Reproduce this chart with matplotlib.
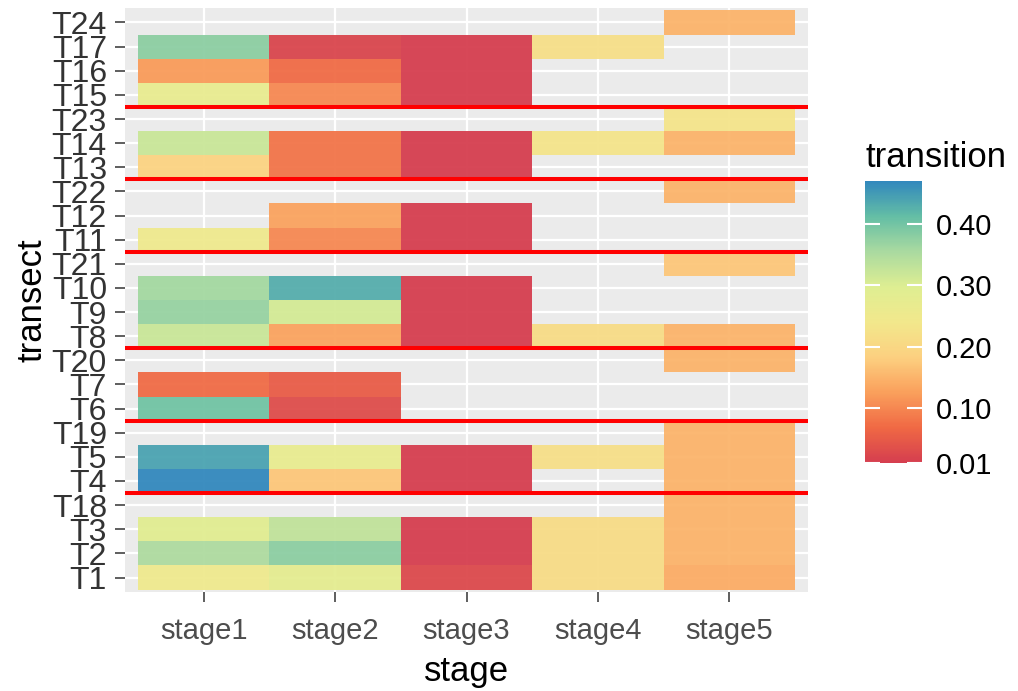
import numpy as np
import matplotlib
matplotlib.use("Agg")
import matplotlib.pyplot as plt
from matplotlib.colors import LinearSegmentedColormap, Normalize
from matplotlib.cm import ScalarMappable

# ---------------- data ----------------
transects = ["T1", "T2", "T3", "T18", "T4", "T5", "T19", "T6", "T7", "T20",
             "T8", "T9", "T10", "T21", "T11", "T12", "T22", "T13", "T14", "T23",
             "T15", "T16", "T17", "T24"]
stages = ["stage1", "stage2", "stage3", "stage4", "stage5"]
nan = np.nan
# values listed bottom (T1) -> top (T24)
stage1 = [0.25, 0.35, 0.29, nan, 0.47, 0.44, nan, 0.40, 0.07, nan,
          0.32, 0.37, 0.36, nan, 0.25, nan, nan, 0.19, 0.32, nan,
          0.27, 0.12, 0.38, nan]
stage2 = [0.28, 0.38, 0.33, nan, 0.17, 0.27, nan, 0.03, 0.05, nan,
          0.13, 0.31, 0.43, nan, 0.10, 0.13, nan, 0.08, 0.08, nan,
          0.10, 0.07, 0.02, nan]
stage3 = [0.025, 0.01, 0.01, nan, 0.01, 0.01, nan, nan, nan, nan,
          0.01, 0.01, 0.01, nan, 0.01, 0.01, nan, 0.01, 0.01, nan,
          0.01, 0.01, 0.01, nan]
stage4 = [0.21, 0.21, 0.21, nan, nan, 0.22, nan, nan, nan, nan,
          0.21, nan, nan, nan, nan, nan, nan, nan, 0.23, nan,
          nan, nan, 0.22, nan]
stage5 = [0.14, 0.15, 0.15, 0.15, 0.15, 0.15, 0.15, nan, nan, 0.15,
          0.15, nan, nan, 0.17, nan, nan, 0.15, nan, 0.15, 0.23,
          nan, nan, nan, 0.15]
hline_y = [4.5, 7.5, 10.5, 14.5, 17.5, 20.5]
cbar_ticks = [0.01, 0.10, 0.20, 0.30, 0.40]
vmin, vmax = 0.01, 0.47

# ---------------- style ----------------
plt.rcParams['font.family'] = ['Liberation Sans', 'DejaVu Sans']
cmap = LinearSegmentedColormap.from_list(
    "spec", ["#D53E4F", "#F06944", "#FAA05C", "#FCD080", "#F2E88C",
             "#DEEE92", "#AADAA0", "#64BEA5", "#3288BD"])

W, H = 1018, 691
fig = plt.figure(figsize=(W / 100, H / 100), dpi=100)
ax = fig.add_axes([125 / W, 1 - 592 / H, (808 - 125) / W, (592 - 8) / H])
ax.set_facecolor('#EBEBEB')

Z = np.ma.masked_invalid(np.array([stage1, stage2, stage3, stage4, stage5], dtype=float).T)
x_edges = np.arange(len(stages) + 1) + 0.5
y_edges = np.arange(len(transects) + 1) + 0.5
mesh = ax.pcolormesh(x_edges, y_edges, Z, cmap=cmap, vmin=vmin, vmax=vmax,
                     alpha=0.95, shading='flat', edgecolors='none',
                     antialiased=False, zorder=2)

ax.set_xticks(np.arange(1, len(stages) + 1))
ax.set_xticklabels(stages)
ax.set_yticks(np.arange(1, len(transects) + 1))
ax.set_yticklabels(transects)
ax.set_xlim(0.4, len(stages) + 0.6)
ax.set_ylim(0.4, len(transects) + 0.6)

ax.grid(True, color='white', linewidth=1.6)
ax.set_axisbelow(True)
for s in ax.spines.values():
    s.set_visible(False)

for y in hline_y:
    ax.axhline(y, color='#FF0000', linewidth=2.9, zorder=3)

ax.tick_params(axis='both', length=7, width=1.1, color='#333333')
ax.tick_params(axis='y', labelsize=23, labelcolor='#333333', pad=6)
ax.tick_params(axis='x', labelsize=21, labelcolor='#4D4D4D', pad=11)
ax.set_xlabel('stage', fontsize=25, labelpad=7, color='black')
ax.set_ylabel('transect', fontsize=25, color='black')
ax.yaxis.set_label_coords(-0.112, 0.5)

# colourbar
cax = fig.add_axes([865 / W, 1 - 463 / H, 57 / W, (463 - 181) / H])
sm = ScalarMappable(norm=Normalize(vmin=vmin, vmax=vmax), cmap=cmap)
cb = fig.colorbar(sm, cax=cax, ticks=cbar_ticks, format='%.2f')
cb.outline.set_visible(False)
cb.minorticks_off()
cax.tick_params(direction='in', length=11, width=1.5, color='white',
                left=True, right=True, labelsize=21, pad=10)
fig.text(865 / W, 1 - 167 / H, 'transition', fontsize=25, ha='left', va='baseline')

fig.savefig('out.png', dpi=100)
